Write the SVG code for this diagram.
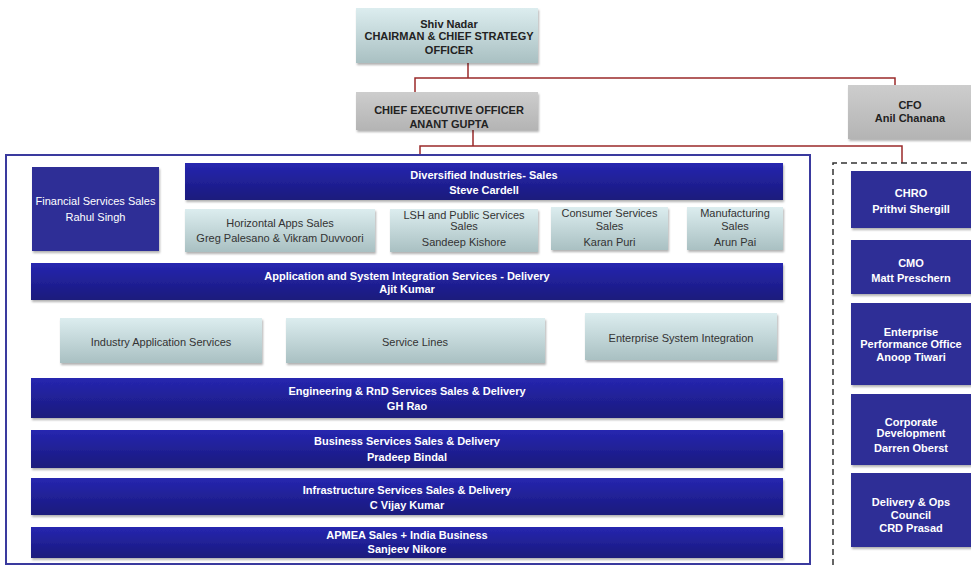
<svg xmlns="http://www.w3.org/2000/svg" width="971" height="565" viewBox="0 0 971 565">
<defs>
<linearGradient id="gTeal" x1="0" y1="0" x2="0" y2="1"><stop offset="0" stop-color="#dcedef"/><stop offset="1" stop-color="#a9c0c2"/></linearGradient>
<linearGradient id="gGray" x1="0" y1="0" x2="0" y2="1"><stop offset="0" stop-color="#cdcdcd"/><stop offset="1" stop-color="#b4b4b4"/></linearGradient>
<linearGradient id="gBar" x1="0" y1="0" x2="0" y2="1"><stop offset="0" stop-color="#2626b0"/><stop offset="1" stop-color="#1a1a7c"/></linearGradient>
<filter id="sh" x="-5%" y="-10%" width="110%" height="130%"><feDropShadow dx="1" dy="2" stdDeviation="1" flood-color="#000" flood-opacity="0.3"/></filter>
</defs>
<style>
text{font-family:"Liberation Sans",Arial,sans-serif;font-size:11px;text-anchor:middle}
.w{fill:#ffffff;font-weight:bold}
.wn{fill:#ffffff}
.d{fill:#333333}
.db{fill:#222222;font-weight:bold}
.teal{fill:url(#gTeal);filter:url(#sh)}
.gray{fill:url(#gGray);filter:url(#sh)}
.bar{fill:url(#gBar);filter:url(#sh)}
.flat{fill:#2e2e96;filter:url(#sh)}
.con{fill:none;stroke:#9b2a2a;stroke-width:1.5}
</style>
<rect width="971" height="565" fill="#ffffff"/>

<g id="connectors">
<path class="con" d="M468,63 V78 M415,92 V78 H895 V85"/>
<path class="con" d="M473,130 V146 M420,154 V146 H902 V163"/>
</g>

<g id="frame-main"><rect x="6" y="155" width="804" height="409" fill="none" stroke="#3a3a9e" stroke-width="2"/></g>
<g id="frame-staff"><path d="M833,565 V163 H971" fill="none" stroke="#333" stroke-width="1.5" stroke-dasharray="6,4"/></g>

<g id="shiv"><rect class="teal" x="356" y="8" width="182" height="55"/>
<text class="db" x="449" y="28">Shiv Nadar</text>
<text class="db" x="449" y="40">CHAIRMAN &amp; CHIEF STRATEGY</text>
<text class="db" x="449" y="54">OFFICER</text></g>

<g id="ceo"><rect class="gray" x="356" y="92" width="182" height="38"/>
<text class="db" x="449" y="113.5">CHIEF EXECUTIVE OFFICER</text>
<text class="db" x="449" y="127.5">ANANT GUPTA</text></g>

<g id="cfo"><rect class="gray" x="848" y="85" width="125" height="54"/>
<text class="db" x="910" y="108.5">CFO</text>
<text class="db" x="910" y="121.5">Anil Chanana</text></g>

<g id="financial"><rect class="flat" x="32" y="167" width="127" height="84"/>
<text class="wn" x="95.5" y="204.5">Financial Services Sales</text>
<text class="wn" x="95.5" y="220.5">Rahul Singh</text></g>

<g id="diversified"><rect class="bar" x="185" y="163" width="598" height="37"/>
<text class="w" x="484" y="178.5">Diversified Industries- Sales</text>
<text class="w" x="484" y="193.5">Steve Cardell</text></g>

<g id="horizontal"><rect class="teal" x="185" y="209" width="190" height="43"/>
<text class="d" x="280" y="226.5">Horizontal Apps Sales</text>
<text class="d" x="280" y="241.5">Greg Palesano &amp; Vikram Duvvoori</text></g>

<g id="lsh"><rect class="teal" x="390" y="209" width="148" height="43"/>
<text class="d" x="464" y="218.5">LSH and Public Services</text>
<text class="d" x="464" y="229.5">Sales</text>
<text class="d" x="464" y="245.5">Sandeep Kishore</text></g>

<g id="consumer"><rect class="teal" x="551" y="207" width="117" height="43"/>
<text class="d" x="609.5" y="217">Consumer Services</text>
<text class="d" x="609.5" y="229.5">Sales</text>
<text class="d" x="609.5" y="245.5">Karan Puri</text></g>

<g id="manufacturing"><rect class="teal" x="687" y="207" width="96" height="43"/>
<text class="d" x="735" y="217">Manufacturing</text>
<text class="d" x="735" y="229.5">Sales</text>
<text class="d" x="735" y="245.5">Arun Pai</text></g>

<g id="asi"><rect class="bar" x="31" y="263" width="752" height="37"/>
<text class="w" x="407" y="279.5">Application and System Integration Services - Delivery</text>
<text class="w" x="407" y="292.5">Ajit Kumar</text></g>

<g id="industry"><rect class="teal" x="60" y="318" width="202" height="45"/>
<text class="d" x="161" y="345.5">Industry Application Services</text></g>

<g id="servicelines"><rect class="teal" x="286" y="318" width="259" height="45"/>
<text class="d" x="415" y="345.5">Service Lines</text></g>

<g id="esi"><rect class="teal" x="585" y="313" width="192" height="47"/>
<text class="d" x="681" y="341.5">Enterprise System Integration</text></g>

<g id="engineering"><rect class="bar" x="31" y="378" width="752" height="40"/>
<text class="w" x="407" y="394.5">Engineering &amp; RnD Services Sales &amp; Delivery</text>
<text class="w" x="407" y="409.5">GH Rao</text></g>

<g id="business"><rect class="bar" x="31" y="430" width="752" height="38"/>
<text class="w" x="407" y="444.5">Business Services Sales &amp; Delivery</text>
<text class="w" x="407" y="460.5">Pradeep Bindal</text></g>

<g id="infra"><rect class="bar" x="31" y="478" width="752" height="37"/>
<text class="w" x="407" y="493.5">Infrastructure Services Sales &amp; Delivery</text>
<text class="w" x="407" y="508.5">C Vijay Kumar</text></g>

<g id="apmea"><rect class="bar" x="31" y="527" width="752" height="31"/>
<text class="w" x="407" y="538.5">APMEA Sales + India Business</text>
<text class="w" x="407" y="552.5">Sanjeev Nikore</text></g>

<g id="chro"><rect class="flat" x="851" y="171" width="122" height="57"/>
<text class="w" x="911" y="196.5">CHRO</text>
<text class="w" x="911" y="212.5">Prithvi Shergill</text></g>

<g id="cmo"><rect class="flat" x="851" y="240" width="122" height="54"/>
<text class="w" x="911" y="266.5">CMO</text>
<text class="w" x="911" y="281.5">Matt Preschern</text></g>

<g id="epo"><rect class="flat" x="851" y="303" width="122" height="82"/>
<text class="w" x="911" y="335.5">Enterprise</text>
<text class="w" x="911" y="347.5">Performance Office</text>
<text class="w" x="911" y="360.5">Anoop Tiwari</text></g>

<g id="corpdev"><rect class="flat" x="851" y="394" width="122" height="71"/>
<text class="w" x="911" y="425.5">Corporate</text>
<text class="w" x="911" y="436.5">Development</text>
<text class="w" x="911" y="451.5">Darren Oberst</text></g>

<g id="delivery"><rect class="flat" x="851" y="473" width="122" height="74"/>
<text class="w" x="911" y="505.5">Delivery &amp; Ops</text>
<text class="w" x="911" y="518.5">Council</text>
<text class="w" x="911" y="531.5">CRD Prasad</text></g>
</svg>
